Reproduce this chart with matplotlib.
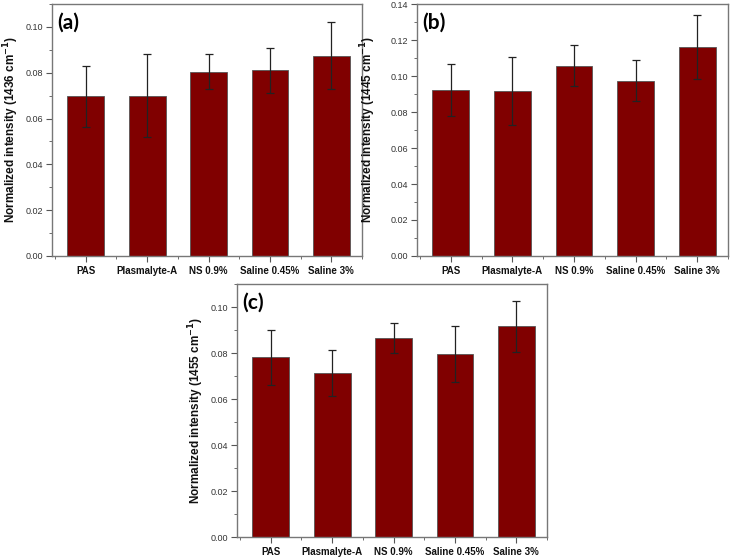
import numpy as np
import matplotlib
matplotlib.use("Agg")
import matplotlib.pyplot as plt
from matplotlib.ticker import MultipleLocator

plt.rcParams['font.family'] = ['Liberation Sans', 'DejaVu Sans']
plt.rcParams['mathtext.default'] = 'bf'

################################
groups = ['PAS', 'Plasmalyte-A', 'NS 0.9%', 'Saline 0.45%', 'Saline 3%']

# (a) 1436 cm-1
mean_a = [0.0697, 0.0700, 0.0805, 0.0810, 0.0875]
err_a = [0.0133, 0.0182, 0.0076, 0.0100, 0.0148]
# (b) 1445 cm-1
mean_b = [0.0922, 0.0918, 0.1057, 0.0975, 0.1163]
err_b = [0.0144, 0.0190, 0.0113, 0.0112, 0.0178]
# (c) 1455 cm-1
mean_c = [0.0781, 0.0712, 0.0866, 0.0796, 0.0916]
err_c = [0.0120, 0.0101, 0.0065, 0.0120, 0.0110]

panels = [
    ('(a)', '1436', mean_a, err_a, 0.11, [0.0712, 0.5404, 0.4247, 0.4524], -0.10),
    ('(b)', '1445', mean_b, err_b, 0.14, [0.5712, 0.5404, 0.4260, 0.4524], -0.125),
    ('(c)', '1455', mean_c, err_c, 0.11, [0.3247, 0.0359, 0.4247, 0.4542], -0.10),
]
################################

fig = plt.figure(figsize=(7.30, 5.57), dpi=100)
x = np.arange(1, len(groups) + 1)

for tag, wn, mean, err, ytop, rect, lx in panels:
    ax = fig.add_axes(rect)
    ax.bar(x, mean, width=0.6, color='#800000', edgecolor='#555555', linewidth=0.6,
           yerr=err, capsize=3, error_kw=dict(ecolor='#222222', elinewidth=0.9, capthick=0.9))
    ax.set_xlim(0.45, 5.5)
    ax.set_ylim(0, ytop)
    ax.set_xticks(x)
    ax.set_xticklabels(groups, fontsize=7, fontweight='bold', color='#111111')
    ax.xaxis.set_minor_locator(MultipleLocator(0.5))
    ax.yaxis.set_major_locator(MultipleLocator(0.02))
    ax.yaxis.set_minor_locator(MultipleLocator(0.01))
    ax.yaxis.set_major_formatter(plt.FormatStrFormatter('%.2f'))
    ax.tick_params(axis='y', labelsize=6.5, labelcolor='#333333', pad=2.5)
    ax.tick_params(which='both', direction='out', color='#555555')
    ax.tick_params(which='major', length=4)
    ax.tick_params(which='minor', length=2.5)
    ax.tick_params(axis='x', which='minor', bottom=True)
    for s in ax.spines.values():
        s.set_color('#777777')
        s.set_linewidth(1.0)
    ax.set_ylabel('Normalized intensity (%s cm$^{-1}$)' % wn, fontsize=8.5,
                  fontweight='bold', color='#111111')
    ax.yaxis.set_label_coords(lx, 0.5)
    ax.text(0.016, 0.965, tag, transform=ax.transAxes, fontsize=15, fontweight='bold',
            family=['Lato', 'DejaVu Sans'], va='top', ha='left')

fig.savefig('out.png', dpi=100)
